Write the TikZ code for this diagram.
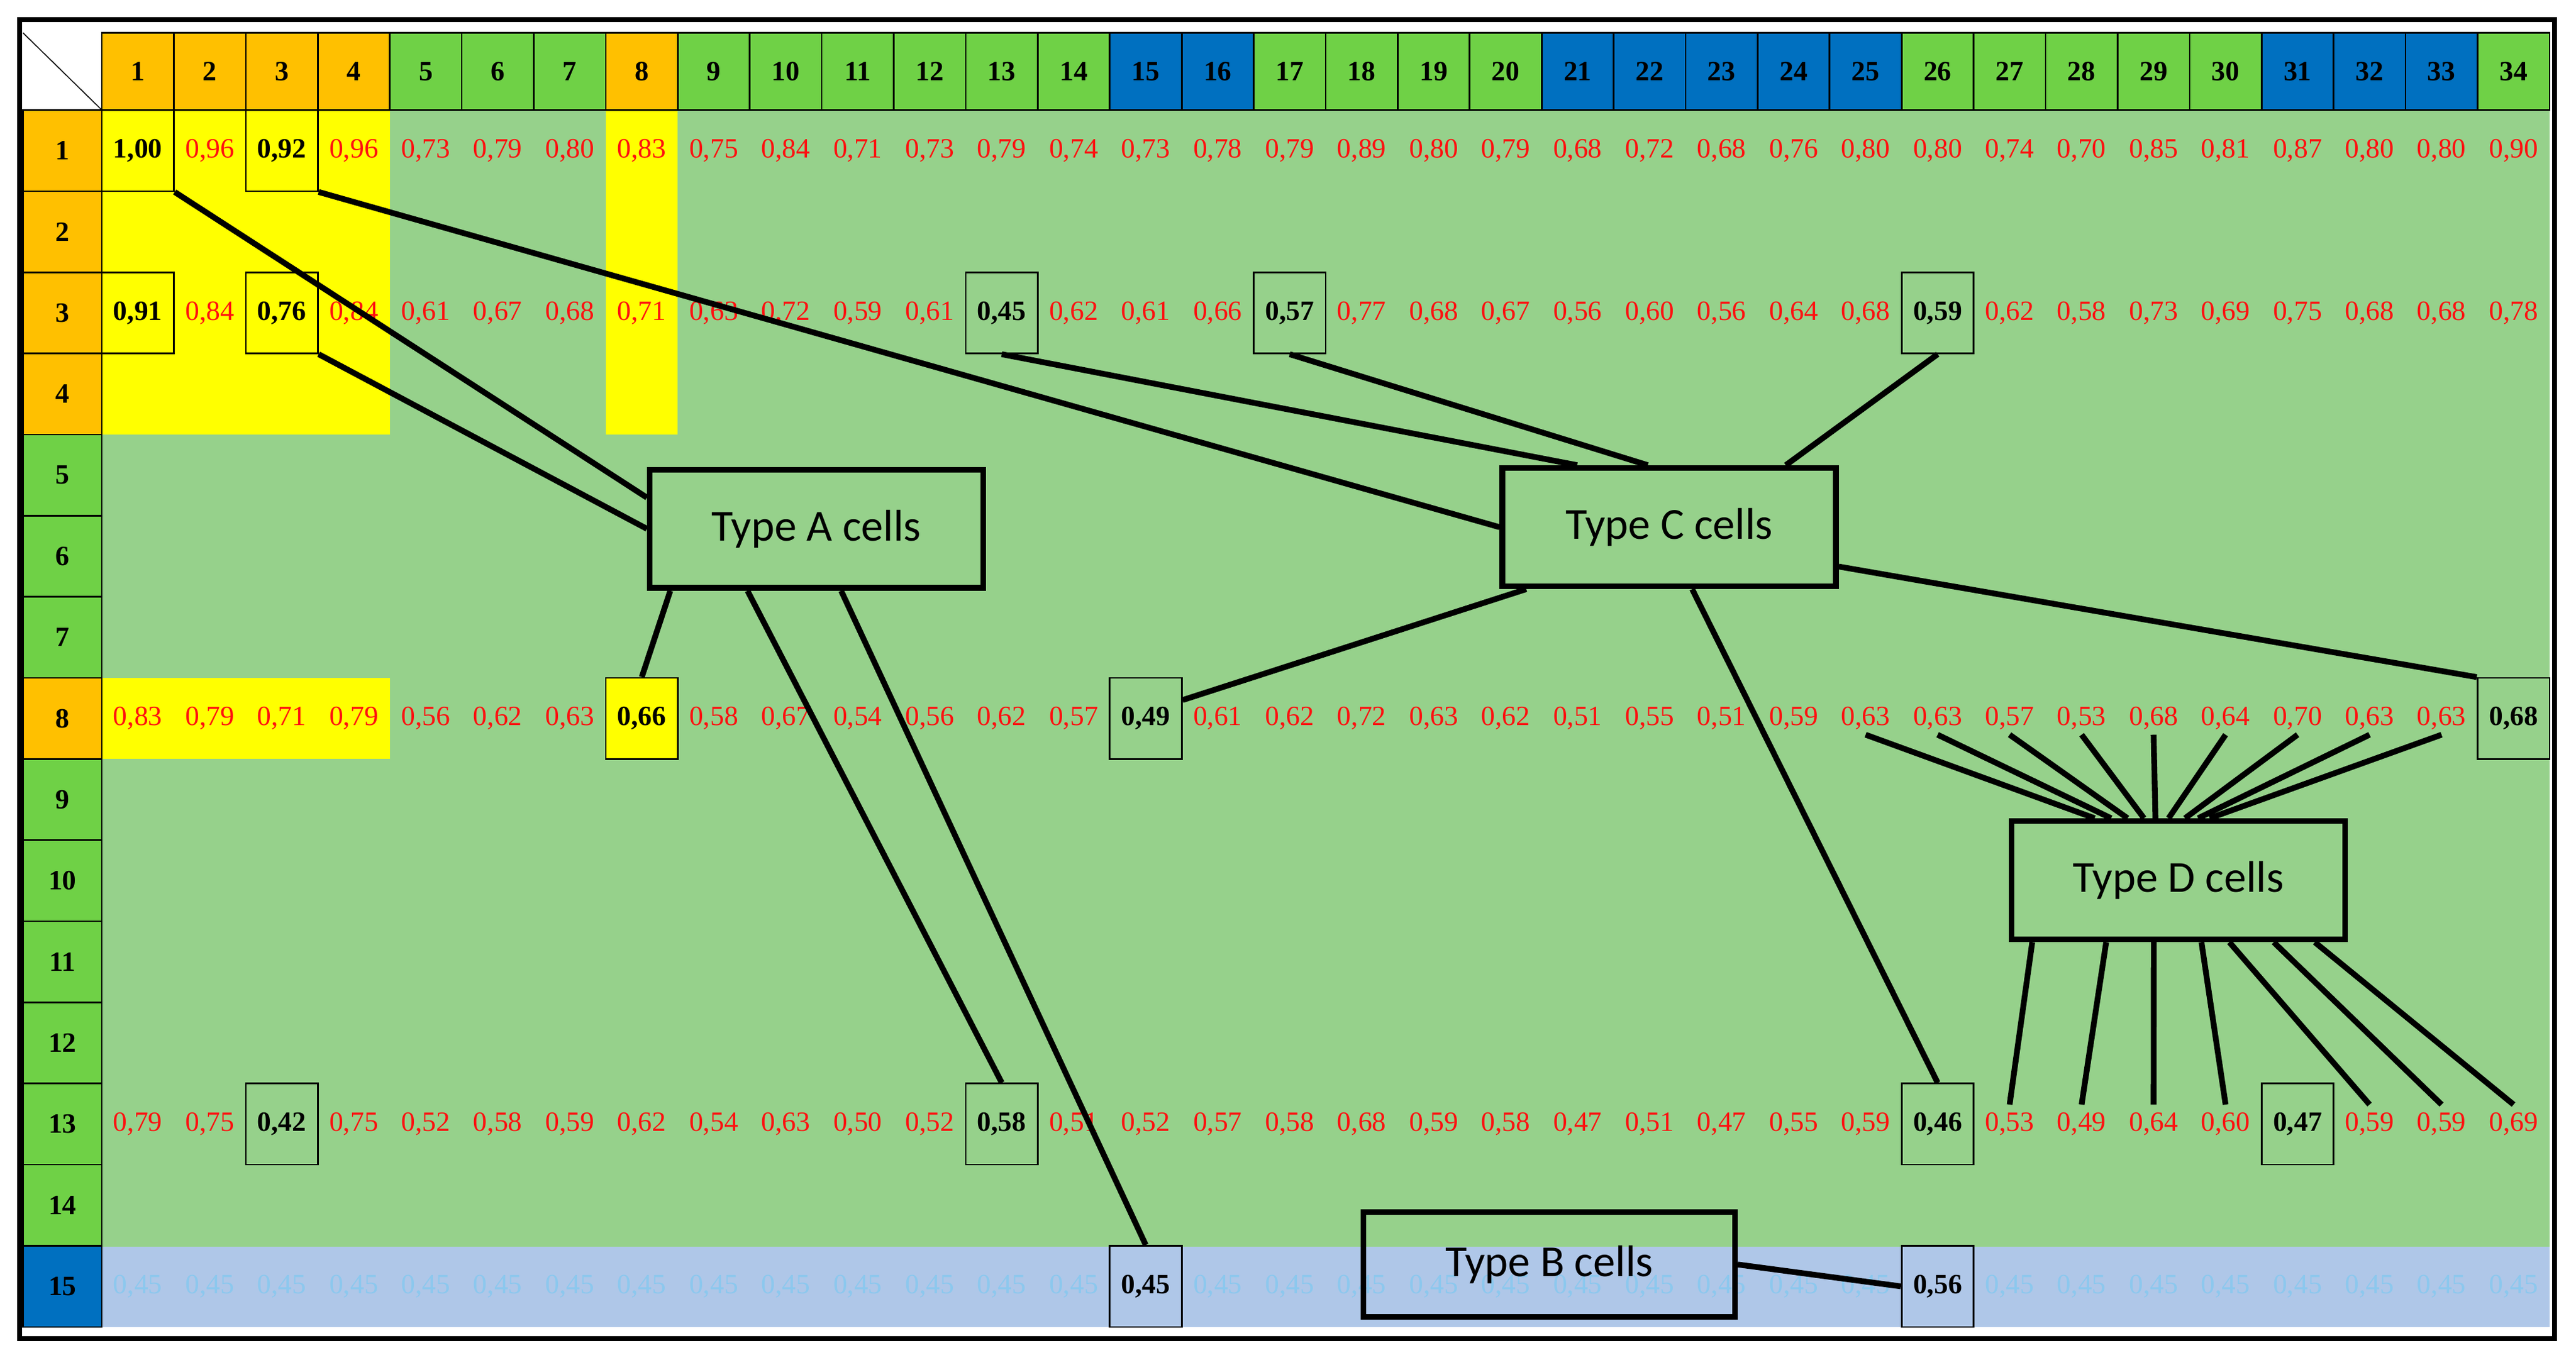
\documentclass[tikz,border=0pt]{standalone}
\usepackage{fontspec}
\setmainfont{Liberation Serif}
\newfontfamily\lblfont{Carlito}
\usetikzlibrary{calc}
\definecolor{hor}{HTML}{FFC000}
\definecolor{hgr}{HTML}{6FD146}
\definecolor{hbl}{HTML}{0070C0}
\definecolor{bgr}{HTML}{96D18B}
\definecolor{byl}{HTML}{FFFF00}
\definecolor{bbl}{HTML}{AFC7E8}
\definecolor{fbl}{HTML}{8CC8EE}
\definecolor{vred}{HTML}{FF1010}
\tikzset{
  hdr/.style={draw=black,line width=1pt,minimum width=43.82pt,minimum height=47pt,inner sep=0pt,font=\bfseries\fontsize{17}{17}\selectfont},
  rhdr/.style={draw=black,line width=1pt,minimum width=48pt,minimum height=49.4pt,inner sep=0pt,font=\bfseries\fontsize{17}{17}\selectfont},
  val/.style={minimum width=43.82pt,minimum height=49.4pt,inner sep=0pt,text=vred,font=\fontsize{17}{17}\selectfont},
  faint/.style={val,text=fbl},
  boxed/.style={draw=black,line width=1pt,minimum width=43.82pt,minimum height=49.4pt,inner sep=0pt,text=black,font=\bfseries\fontsize{17}{17}\selectfont},
  typ/.style={draw=black,line width=3.5pt,minimum width=203pt,minimum height=72pt,inner sep=0pt,font=\lblfont\fontsize{27}{27}\selectfont},
  con/.style={line width=3.5pt,black}
}
\begin{document}
\begin{tikzpicture}[x=1pt,y=-1pt]
\useasboundingbox (0,0) rectangle (1568,831);
\fill[white] (0,0) rectangle (1568,831);
\fill[bgr] (62,67) rectangle (1552,759);
\fill[bbl] (62,759) rectangle (1552,808);
\fill[byl] (62,67) rectangle (237.3,264.6);
\fill[byl] (368.7,67) rectangle (412.6,264.6);
\fill[byl] (62,412.8) rectangle (237.3,462.2);
\fill[byl] (368.7,412.8) rectangle (412.6,462.2);
\draw[line width=0.6pt] (14,20) -- (62,67);
\foreach \c/\col in {1/hor,2/hor,3/hor,4/hor,5/hgr,6/hgr,7/hgr,8/hor,9/hgr,10/hgr,11/hgr,12/hgr,13/hgr,14/hgr,15/hbl,16/hbl,17/hgr,18/hgr,19/hgr,20/hgr,21/hbl,22/hbl,23/hbl,24/hbl,25/hbl,26/hgr,27/hgr,28/hgr,29/hgr,30/hgr,31/hbl,32/hbl,33/hbl,34/hgr}{
  \pgfmathsetmacro\x{62+(\c-0.5)*43.82}
  \node[hdr,fill=\col] (h-\c) at (\x,43.5) {\c};
}
\foreach \r/\col in {1/hor,2/hor,3/hor,4/hor,5/hgr,6/hgr,7/hgr,8/hor,9/hgr,10/hgr,11/hgr,12/hgr,13/hgr,14/hgr,15/hbl}{
  \pgfmathsetmacro\y{67+(\r-0.5)*49.4}
  \node[rhdr,fill=\col] (r-\r) at (38,\y) {\r};
}
\foreach \r/\vals in {
1/{1/00,0/96,0/92,0/96,0/73,0/79,0/80,0/83,0/75,0/84,0/71,0/73,0/79,0/74,0/73,0/78,0/79,0/89,0/80,0/79,0/68,0/72,0/68,0/76,0/80,0/80,0/74,0/70,0/85,0/81,0/87,0/80,0/80,0/90},
3/{0/91,0/84,0/76,0/84,0/61,0/67,0/68,0/71,0/63,0/72,0/59,0/61,0/45,0/62,0/61,0/66,0/57,0/77,0/68,0/67,0/56,0/60,0/56,0/64,0/68,0/59,0/62,0/58,0/73,0/69,0/75,0/68,0/68,0/78},
8/{0/83,0/79,0/71,0/79,0/56,0/62,0/63,0/66,0/58,0/67,0/54,0/56,0/62,0/57,0/49,0/61,0/62,0/72,0/63,0/62,0/51,0/55,0/51,0/59,0/63,0/63,0/57,0/53,0/68,0/64,0/70,0/63,0/63,0/68},
13/{0/79,0/75,0/42,0/75,0/52,0/58,0/59,0/62,0/54,0/63,0/50,0/52,0/58,0/51,0/52,0/57,0/58,0/68,0/59,0/58,0/47,0/51,0/47,0/55,0/59,0/46,0/53,0/49,0/64,0/60,0/47,0/59,0/59,0/69}}{
  \pgfmathsetmacro\y{67+(\r-0.5)*49.4}
  \foreach \a/\b [count=\c] in \vals {
    \pgfmathsetmacro\x{62+(\c-0.5)*43.82}
    \node[val] (v-\r-\c) at (\x,\y) {\a,\b};
  }
}
\foreach \c in {1,...,34}{
  \pgfmathsetmacro\x{62+(\c-0.5)*43.82}
  \node[faint] (v-15-\c) at (\x,783.3) {0,45};
}
\foreach \r/\c/\t/\f in {1/1/{1,00}/byl,1/3/{0,92}/byl,3/1/{0,91}/byl,3/3/{0,76}/byl,3/13/{0,45}/bgr,3/17/{0,57}/bgr,3/26/{0,59}/bgr,8/8/{0,66}/byl,8/15/{0,49}/bgr,8/34/{0,68}/bgr,13/3/{0,42}/bgr,13/13/{0,58}/bgr,13/26/{0,46}/bgr,13/31/{0,47}/bgr,15/15/{0,45}/bbl,15/26/{0,56}/bbl}{
  \node[boxed,fill=\f] (b-\r-\c) at (v-\r-\c) {\t};
}
\draw[line width=3pt] (12,12) rectangle (1555,815);
\node[typ,fill=bgr] (A) at (497,322) {Type A cells};
\node[typ,fill=bgr] (C) at (1016,321) {Type C cells};
\node[typ,fill=bgr] (D) at (1326,536) {Type D cells};
\node[typ,minimum width=226pt,minimum height=64pt,fill=none] (B) at (943,770) {Type B cells};
\draw[con] ([yshift=19pt]A.west) -- (b-1-1.south east);
\draw[con] (A.west) -- (b-3-3.south east);
\draw[con] ([xshift=-89pt]A.south) -- (b-8-8.north);
\draw[con] ([xshift=-42pt]A.south) -- (b-13-13.north);
\draw[con] ([xshift=15pt]A.south) -- (b-15-15.north);
\draw[con] (C.west) -- (b-1-3.south east);
\draw[con] ([xshift=-56pt]C.north) -- (b-3-13.south);
\draw[con] ([xshift=-13pt]C.north) -- (b-3-17.south);
\draw[con] ([xshift=71pt]C.north) -- (b-3-26.south);
\draw[con] ([xshift=-87pt]C.south) -- ([yshift=-14pt]b-8-15.north east);
\draw[con] ([yshift=-24pt]C.east) -- (b-8-34.north west);
\draw[con] ([xshift=14pt]C.south) -- (b-13-26.north);
\foreach \s/\c in {-51/25,-41/26,-31/27,-21/28,-14/29,-6/30,4/31,12/32,19/33}{
  \draw[con] ([xshift=\s pt]D.north) -- ([yshift=15pt]v-8-\c.south);
}
\foreach \s/\c in {-89/27,-44/28,-15/29,14/30,31/32,58/33,83/34}{
  \draw[con] ([xshift=\s pt]D.south) -- ([yshift=-13pt]v-13-\c.north);
}
\draw[con] (B.east) -- (b-15-26.west);
\end{tikzpicture}
\end{document}
